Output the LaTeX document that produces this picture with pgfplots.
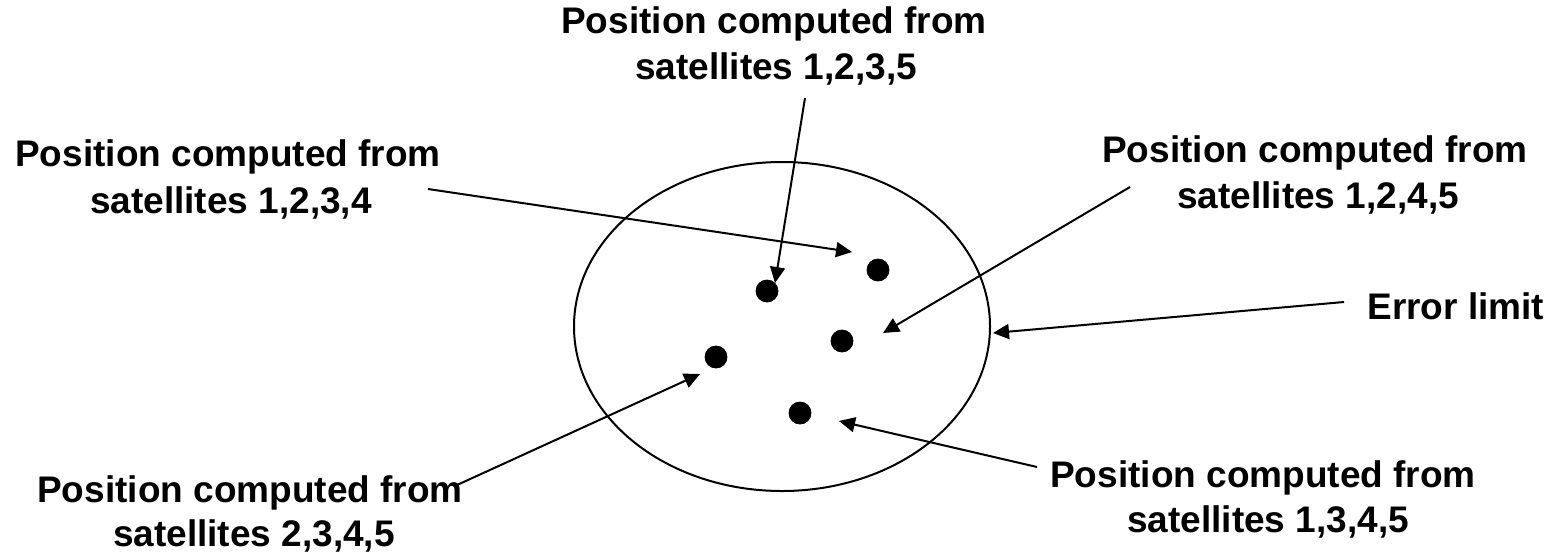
\documentclass[border=0pt]{standalone}
\usepackage{pgfplots}
\pgfplotsset{compat=1.18}
\usetikzlibrary{arrows.meta}
\usepackage{fontspec}
\setmainfont{Liberation Sans}
\newcommand\lab{\fontsize{18.5}{22}\selectfont\bfseries}
\begin{document}
\begin{tikzpicture}
\begin{axis}[
  scale only axis, width=775pt, height=276.5pt,
  xmin=0, xmax=1550, ymin=0, ymax=553, y dir=reverse,
  hide axis, clip=false,
]
\coordinate (SW) at (axis cs:0,553);
\coordinate (NE) at (axis cs:1550,0);
% error-limit ellipse
\draw[line width=1pt] (axis cs:782,326.5) ellipse [x radius=208, y radius=164.5];
% computed positions
\addplot[only marks, mark=*, mark size=5.5pt, black] coordinates {
  (878,270) (767,291) (842,341) (716,357) (800,413)};
% arrows
\pgfplotsset{arr/.style={black, line width=1pt, -{Triangle[length=8pt,width=7.5pt]}}}
\addplot[arr] coordinates {(805,98) (775,283)};
\addplot[arr] coordinates {(428,189) (852,252)};
\addplot[arr] coordinates {(1130,187) (883,333)};
\addplot[arr] coordinates {(1344,302) (993,333)};
\addplot[arr] coordinates {(457,485) (700,374)};
\addplot[arr] coordinates {(1037,467) (839,421)};
% labels
\node[anchor=base] at (axis cs:774,33) {\lab Position computed from};
\node[anchor=base] at (axis cs:776,79) {\lab satellites 1,2,3,5};
\node[anchor=base] at (axis cs:228,166) {\lab Position computed from};
\node[anchor=base] at (axis cs:231,213) {\lab satellites 1,2,3,4};
\node[anchor=base] at (axis cs:1315,162) {\lab Position computed from};
\node[anchor=base] at (axis cs:1318,208) {\lab satellites 1,2,4,5};
\node[anchor=base west, inner sep=0pt] at (axis cs:1367,319) {\lab Error limit};
\node[anchor=base] at (axis cs:250,502) {\lab Position computed from};
\node[anchor=base] at (axis cs:254,546) {\lab satellites 2,3,4,5};
\node[anchor=base] at (axis cs:1263,487) {\lab Position computed from};
\node[anchor=base] at (axis cs:1268,532) {\lab satellites 1,3,4,5};
\end{axis}
\pgfresetboundingbox
\path[use as bounding box] (SW) rectangle (NE);
\end{tikzpicture}
\end{document}
